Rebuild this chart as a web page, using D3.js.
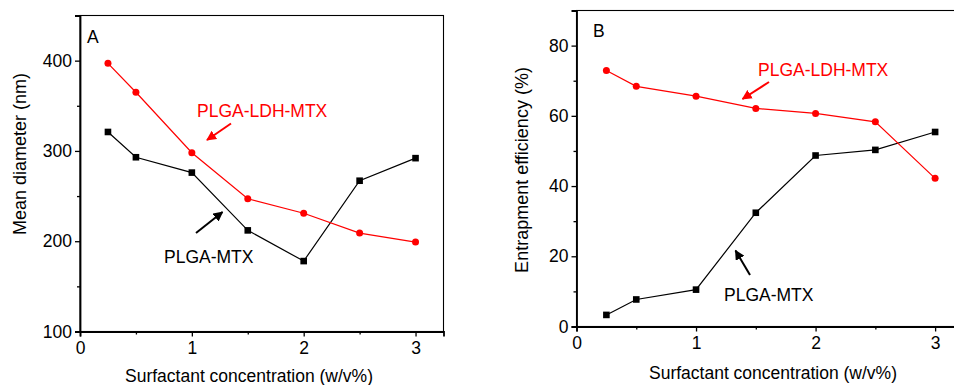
<!DOCTYPE html>
<html>
<head>
<meta charset="utf-8">
<script src="https://cdn.jsdelivr.net/npm/d3@7"></script>
<style>
  body { margin: 0; background: #fff; }
  svg { display: block; font-family: "Liberation Sans", Arial, sans-serif; }
</style>
</head>
<body>
<svg id="chart" width="954" height="385"></svg>
<script>
// Surfactant concentration (w/v%)
const concentration = [0.25, 0.5, 1, 1.5, 2, 2.5, 3];

// Panel A: mean diameter (nm)
const diameterLdh = [397, 365, 298, 247, 231, 209, 199];
const diameterPlga = [321, 293, 276, 212, 178, 267, 292];

// Panel B: entrapment efficiency (%)
const efficiencyLdh = [72.9, 68.4, 65.6, 62.1, 60.7, 58.3, 42.2];
const efficiencyPlga = [3.3, 7.7, 10.5, 32.4, 48.7, 50.3, 55.4];

const xTicks = [0, 1, 2, 3];
const xMinor = [0.5, 1.5, 2.5];
const diameterTicks = [100, 200, 300, 400];
const diameterMinor = [150, 250, 350];
const efficiencyTicks = [0, 20, 40, 60, 80];
const efficiencyMinor = [10, 30, 50, 70];

const RED = '#ff0000';
const FS = 17.5;
const svg = d3.select('#chart');

const defs = svg.append('defs');
[['head-red', RED], ['head-black', '#000']].forEach(([id, c]) => {
  defs.append('marker')
    .attr('id', id)
    .attr('viewBox', '0 0 10 10')
    .attr('refX', 9).attr('refY', 5)
    .attr('markerWidth', 5).attr('markerHeight', 5)
    .attr('markerUnits', 'strokeWidth')
    .attr('orient', 'auto')
    .append('path').attr('d', 'M0,0 L10,5 L0,10 Z').attr('fill', c);
});

function drawPanel(cfg) {
  const x = d3.scaleLinear().domain([0, 3.25]).range([cfg.left, cfg.right]);
  const y = d3.scaleLinear().domain(cfg.yDomain).range([cfg.bottom, cfg.top]);
  const g = svg.append('g');

  // frame (top/right thin)
  g.append('rect')
    .attr('x', cfg.left).attr('y', cfg.top)
    .attr('width', cfg.right - cfg.left).attr('height', cfg.bottom - cfg.top)
    .attr('fill', 'none').attr('stroke', '#000').attr('stroke-width', 1.1);

  // axes
  const xAxis = g.append('g').attr('transform', `translate(0,${cfg.bottom})`)
    .call(d3.axisBottom(x).tickValues(xTicks).tickFormat(d3.format('d')).tickSize(5).tickPadding(5));
  g.append('g').attr('transform', `translate(0,${cfg.bottom})`)
    .call(d3.axisBottom(x).tickValues(xMinor).tickFormat('').tickSize(3))
    .select('.domain').remove();
  const yAxis = g.append('g').attr('transform', `translate(${cfg.left},0)`)
    .call(d3.axisLeft(y).tickValues(cfg.yTicks).tickSize(5).tickPadding(3));
  g.append('g').attr('transform', `translate(${cfg.left},0)`)
    .call(d3.axisLeft(y).tickValues(cfg.yMinor).tickFormat('').tickSize(3))
    .select('.domain').remove();
  [xAxis, yAxis].forEach(a => {
    a.select('.domain').attr('stroke-width', 1.8);
    a.selectAll('text').attr('font-size', FS).attr('fill', '#000')
      .style('font-family', '"Liberation Sans", Arial, sans-serif');
  });
  g.selectAll('.tick line').attr('stroke-width', 1.3);

  // axis titles
  g.append('text')
    .attr('x', cfg.xTitleX).attr('y', cfg.xTitleY)
    .attr('text-anchor', 'middle').attr('font-size', FS)
    .text('Surfactant concentration (w/v%)');
  g.append('text')
    .attr('transform', `translate(${cfg.yTitleX},${cfg.yTitleY}) rotate(-90)`)
    .attr('text-anchor', 'middle').attr('font-size', 18)
    .text(cfg.yTitle);

  // panel letter
  g.append('text').attr('x', cfg.letterX).attr('y', cfg.letterY)
    .attr('font-size', FS).text(cfg.letter);

  const line = d3.line().x(d => x(d[0])).y(d => y(d[1]));
  const black = concentration.map((c, i) => [c, cfg.black[i]]);
  const red = concentration.map((c, i) => [c, cfg.red[i]]);

  g.append('path').datum(black).attr('d', line)
    .attr('fill', 'none').attr('stroke', '#000').attr('stroke-width', 1.2);
  g.append('path').datum(red).attr('d', line)
    .attr('fill', 'none').attr('stroke', RED).attr('stroke-width', 1.2);

  g.selectAll('.sq').data(black).enter().append('rect')
    .attr('x', d => x(d[0]) - 3.3).attr('y', d => y(d[1]) - 3.3)
    .attr('width', 6.6).attr('height', 6.6).attr('fill', '#000');
  g.selectAll('.dot').data(red).enter().append('circle')
    .attr('cx', d => x(d[0])).attr('cy', d => y(d[1])).attr('r', 3.5)
    .attr('fill', RED);

  // annotations
  g.append('text').attr('x', cfg.redLabel[0]).attr('y', cfg.redLabel[1])
    .attr('font-size', FS).attr('fill', RED).text('PLGA-LDH-MTX');
  g.append('text').attr('x', cfg.blackLabel[0]).attr('y', cfg.blackLabel[1])
    .attr('font-size', FS).attr('fill', '#000').text('PLGA-MTX');
  g.append('line')
    .attr('x1', cfg.redArrow[0]).attr('y1', cfg.redArrow[1])
    .attr('x2', cfg.redArrow[2]).attr('y2', cfg.redArrow[3])
    .attr('stroke', RED).attr('stroke-width', 2).attr('marker-end', 'url(#head-red)');
  g.append('line')
    .attr('x1', cfg.blackArrow[0]).attr('y1', cfg.blackArrow[1])
    .attr('x2', cfg.blackArrow[2]).attr('y2', cfg.blackArrow[3])
    .attr('stroke', '#000').attr('stroke-width', 2).attr('marker-end', 'url(#head-black)');
}

drawPanel({
  left: 80, right: 443.5, top: 15.5, bottom: 331.5,
  yDomain: [100, 450], yTicks: diameterTicks, yMinor: diameterMinor,
  yTitle: 'Mean diameter (nm)', yTitleX: 26, yTitleY: 154,
  xTitleX: 249, xTitleY: 382,
  letter: 'A', letterX: 87, letterY: 43,
  red: diameterLdh, black: diameterPlga,
  redLabel: [197, 117], blackLabel: [164, 263],
  redArrow: [231, 123.5, 207, 140], blackArrow: [196, 233, 222.5, 212]
});

drawPanel({
  left: 576.5, right: 965, top: 10.5, bottom: 326.5,
  yDomain: [0, 90], yTicks: efficiencyTicks, yMinor: efficiencyMinor,
  yTitle: 'Entrapment efficiency (%)', yTitleX: 528, yTitleY: 170,
  xTitleX: 773, xTitleY: 379,
  letter: 'B', letterX: 593, letterY: 37,
  red: efficiencyLdh, black: efficiencyPlga,
  redLabel: [758, 76], blackLabel: [724, 301],
  redArrow: [769, 82, 742.5, 99], blackArrow: [750, 275, 735.5, 250.5]
});
</script>
</body>
</html>
